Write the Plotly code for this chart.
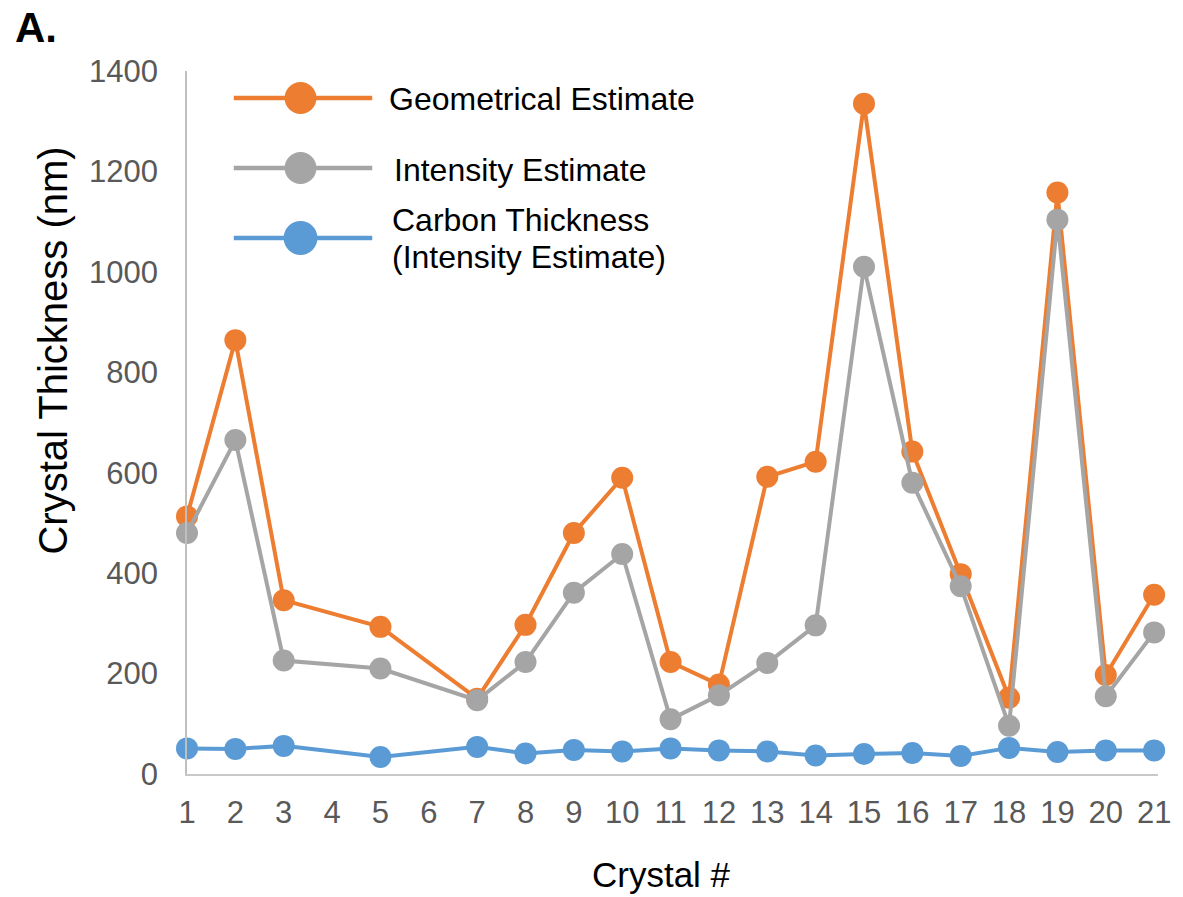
import plotly.graph_objects as go

crystals = [1, 2, 3, 5, 7, 8, 9, 10, 11, 12, 13, 14, 15, 16, 17, 18, 19, 20, 21]
geometrical = [513, 864, 346, 293, 150, 297, 480, 590, 223, 178, 592, 622, 1335, 642, 398, 152, 1158, 197, 357]
intensity = [480, 665, 226, 210, 147, 223, 361, 438, 109, 157, 221, 296, 1010, 580, 374, 96, 1104, 155, 282]
carbon = [51, 50, 56, 34, 54, 41, 48, 45, 51, 47, 45, 37, 40, 42, 36, 52, 44, 47, 47]
tick_vals = list(range(1, 22))
tick_text = [str(v) for v in tick_vals]
y_ticks = [0, 200, 400, 600, 800, 1000, 1200, 1400]

series_names = ["Geometrical Estimate", "Intensity Estimate", "Carbon Thickness"]
colors = ["#ED7D31", "#A5A5A5", "#5B9BD5"]

W, H = 1183, 897
L, R, T, B = 187, 21, 71, 123
PW, PH = W - L - R, H - T - B
FONT = "Liberation Sans, Arial, sans-serif"


def px(x):
    return (x - L) / PW


def py(y):
    return (H - B - y) / PH


fig = go.Figure()
for name, vals, col in zip(series_names, [geometrical, intensity, carbon], colors):
    fig.add_trace(go.Scatter(
        x=crystals, y=vals, mode="lines+markers", name=name,
        line=dict(color=col, width=4),
        marker=dict(color=col, size=22),
        cliponaxis=False, showlegend=False,
    ))

shapes = []
annotations = []
legend_rows = [
    (98, 32, colors[0]),
    (168, 32, colors[1]),
    (238, 34, colors[2]),
]
for yc, d, col in legend_rows:
    shapes.append(dict(type="line", xref="paper", yref="paper",
                       x0=px(234), x1=px(373), y0=py(yc), y1=py(yc),
                       line=dict(color=col, width=4.5)))
    shapes.append(dict(type="circle", xref="paper", yref="paper",
                       x0=px(301 - d / 2), x1=px(301 + d / 2),
                       y0=py(yc + d / 2), y1=py(yc - d / 2),
                       fillcolor=col, line=dict(width=0)))

legend_texts = [
    ("Geometrical Estimate", 388, 99),
    ("Intensity Estimate", 393, 170),
    ("Carbon Thickness", 391, 220),
    ("(Intensity Estimate)", 391, 257),
]
for txt, xl, yc in legend_texts:
    annotations.append(dict(text=txt, xref="paper", yref="paper",
                            x=px(xl), y=py(yc), xanchor="left", yanchor="middle",
                            showarrow=False, font=dict(family=FONT, size=32, color="#000000")))

annotations.append(dict(text="<b>A.</b>", xref="paper", yref="paper",
                        x=px(12), y=py(28), xanchor="left", yanchor="middle",
                        showarrow=False, font=dict(family=FONT, size=42, color="#000000")))
annotations.append(dict(text="Crystal #", xref="paper", yref="paper",
                        x=px(663), y=py(874), xanchor="center", yanchor="middle",
                        showarrow=False, font=dict(family=FONT, size=35, color="#000000")))
annotations.append(dict(text="Crystal Thickness (nm)", xref="paper", yref="paper",
                        x=px(52), y=py(351), xanchor="center", yanchor="middle",
                        textangle=-90,
                        showarrow=False, font=dict(family=FONT, size=40, color="#000000")))

fig.update_layout(
    width=W, height=H,
    margin=dict(l=L, r=R, t=T, b=B, pad=0),
    paper_bgcolor="white", plot_bgcolor="white",
    shapes=shapes, annotations=annotations,
    showlegend=False,
)
fig.update_xaxes(
    range=[1, 21.08], tickmode="array", tickvals=tick_vals, ticktext=tick_text,
    showgrid=False, zeroline=False, showline=True, linecolor="#C8C8C8", linewidth=1.5,
    ticks="", ticklabelstandoff=10,
    tickfont=dict(family=FONT, size=31, color="#595959"),
)
fig.update_yaxes(
    range=[0, 1400], tickmode="array", tickvals=y_ticks,
    showgrid=False, zeroline=False, showline=True, linecolor="#BFBFBF", linewidth=1.5,
    ticks="", ticklabelstandoff=21,
    tickfont=dict(family=FONT, size=31, color="#595959"),
)

fig.write_html("out.html", config={"displayModeBar": False},
               post_script="document.body.style.margin='0';document.body.style.overflow='hidden';")
